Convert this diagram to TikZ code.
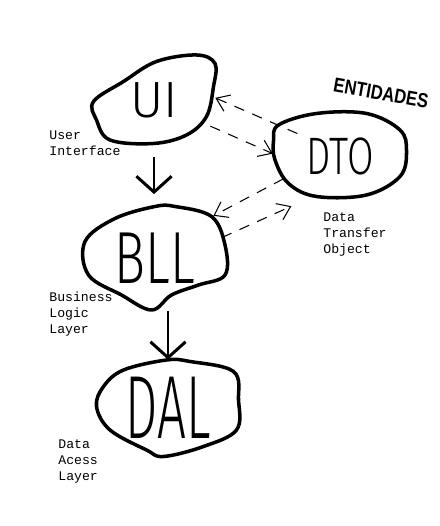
\documentclass[tikz,border=0pt]{standalone}
\usepackage{fontspec}
\usepackage{tikz}
\usetikzlibrary{shapes.geometric,arrows.meta}
\newfontfamily\handfont{Fira Sans Light}
\newfontfamily\notefont{Liberation Mono}
\newfontfamily\tagfont{Liberation Sans}
\pgfdeclarelayer{edgelayer}
\pgfdeclarelayer{nodelayer}
\pgfsetlayers{edgelayer,nodelayer,main}
\tikzstyle{blob}=[ellipse, inner sep=0pt]
\tikzstyle{outline}=[draw=black, line width=2pt, line join=round, line cap=round]
\tikzstyle{note}=[anchor=north west, inner sep=0pt, align=left, font=\notefont\fontsize{7.5}{9.1}\selectfont]
\tikzstyle{flow}=[-{Straight Barb[length=9pt,width=20pt]}, line width=1.7pt]
\tikzstyle{dtolink}=[-{Straight Barb[length=7pt,width=10pt]}, line width=0.6pt, dash pattern=on 6pt off 5pt]

\begin{document}
\begin{tikzpicture}
            \useasboundingbox (0, 0) rectangle (8.78, 10.52);
            \begin{pgfonlayer}{nodelayer}
                \node [style=blob, minimum width=2.44cm, minimum height=1.76cm, font=\handfont\fontsize{29}{29}\selectfont] (ui) at (3.08, 8.52) {UI};
                \node [style=blob, minimum width=2.68cm, minimum height=1.68cm, font=\handfont\fontsize{30}{30}\selectfont] (dto) at (6.80, 7.40) {\scalebox{0.73}[1]{DTO}};
                \node [style=blob, minimum width=2.88cm, minimum height=2.12cm, font=\handfont\fontsize{42}{42}\selectfont] (bll) at (3.10, 5.36) {\scalebox{0.7}[1]{BLL}};
                \node [style=blob, minimum width=2.92cm, minimum height=1.92cm, font=\handfont\fontsize{51}{51}\selectfont] (dal) at (3.36, 2.36) {\scalebox{0.57}[1]{DAL}};

                \node [rotate=-10, font=\tagfont\bfseries\fontsize{11.5}{11.5}\selectfont] (entidades) at (7.62, 8.66) {\scalebox{0.82}[1]{ENTIDADES}};

                \node [style=note] (uilabel) at (0.98, 7.92) {User\\Interface};
                \node [style=note] (dtolabel) at (6.46, 6.28) {Data\\Transfer\\Object};
                \node [style=note] (blllabel) at (0.98, 4.68) {Business\\Logic\\Layer};
                \node [style=note] (dallabel) at (1.16, 1.74) {Data\\Acess\\Layer};
            \end{pgfonlayer}
            \begin{pgfonlayer}{edgelayer}
                % hand drawn outlines
                \draw [style=outline, shift={(ui.center)}] plot [smooth cycle, tension=0.6] coordinates {(-1.21,-0.03) (-0.61,0.37) (0.05,0.77) (0.85,0.90) (1.22,0.73) (1.19,0.27) (1.05,-0.33) (0.65,-0.70) (-0.01,-0.87) (-0.88,-0.80) (-1.15,-0.40)};
                \draw [style=outline, shift={(dto.center)}] plot [smooth cycle, tension=0.6] coordinates {(-1.23,0.62) (-0.47,0.85) (0.53,0.85) (1.20,0.52) (1.33,0.10) (1.20,-0.41) (0.53,-0.78) (-0.47,-0.81) (-1.03,-0.55) (-1.30,-0.08) (-1.33,0.30)};
                \draw [style=outline, shift={(bll.center)}] plot [smooth cycle, tension=0.6] coordinates {(0,1.03) (-0.80,0.79) (-1.40,0.33) (-1.33,-0.34) (-0.67,-0.74) (-0.07,-1.04) (0.33,-0.74) (0.87,-0.54) (1.40,-0.34) (1.40,0.26) (1.13,0.83) (0.40,1.03)};
                \draw [style=outline, shift={(dal.center)}] plot [smooth cycle, tension=0.6] coordinates {(-0.03,0.96) (-0.89,0.76) (-1.29,0.43) (-1.43,0.03) (-1.16,-0.44) (-0.43,-0.84) (-0.09,-0.97) (0.71,-0.77) (1.37,-0.44) (1.41,0.16) (1.31,0.73) (0.44,0.93)};

                \draw [style=flow, shorten <=7pt, shorten >=6pt] (ui.south) to (ui.south |- bll.north);
                \draw [style=flow] (bll.south -| dal.north) to (dal.north);

                \draw [style=dtolink, shorten <=-6pt] (dto.153) to (ui.2);
                \draw [style=dtolink, shorten <=3pt] (ui.335) to (dto.178);
                \draw [style=dtolink, shorten >=5pt] (dto.202) to (bll.37);
                \draw [style=dtolink, shorten >=15pt] (bll.17) to (dto.238);
            \end{pgfonlayer}
        \end{tikzpicture}
\end{document}
